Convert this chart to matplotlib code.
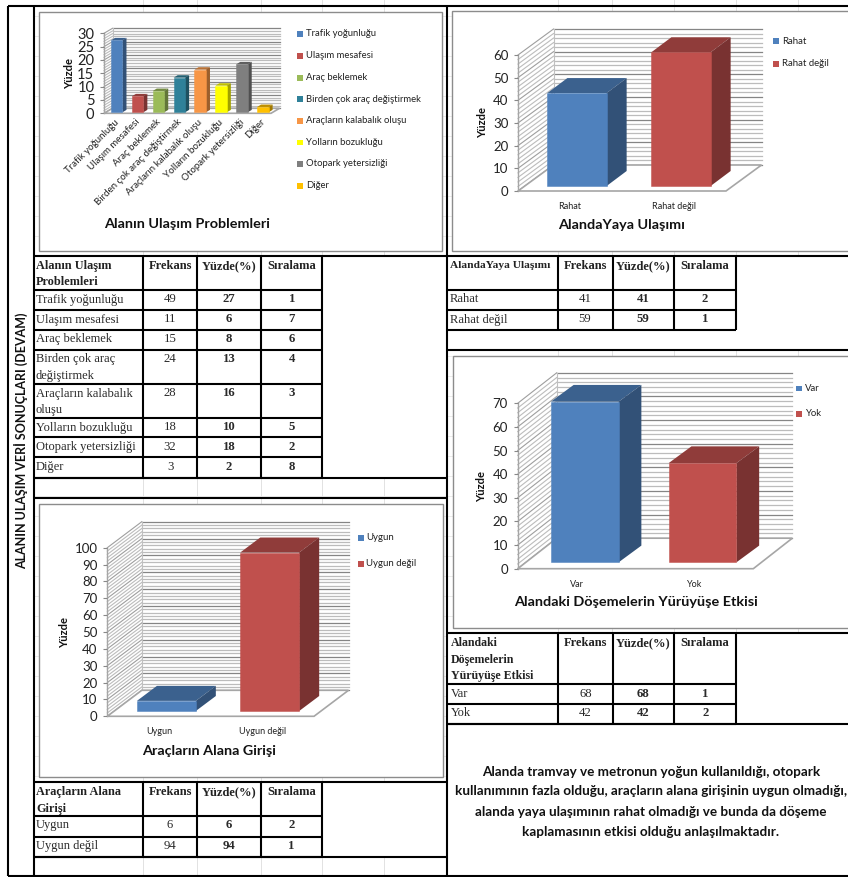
import matplotlib
matplotlib.use('Agg')
import matplotlib.pyplot as plt
from matplotlib.patches import Rectangle

plt.rcParams['font.family'] = ['Lato', 'DejaVu Sans']

W, H = 848, 877

# chart data
ulasim_labels = ['Trafik yoğunluğu', 'Ulaşım mesafesi', 'Araç beklemek', 'Birden çok araç değiştirmek',
                 'Araçların kalabalık oluşu', 'Yolların bozukluğu', 'Otopark yetersizliği', 'Diğer']
ulasim_frekans = [49, 11, 15, 24, 28, 18, 32, 3]
ulasim_yuzde = [27, 6, 8, 13, 16, 10, 18, 2]
ulasim_sira = [1, 7, 6, 4, 3, 5, 2, 8]
ulasim_colors = ['#4f81bd', '#c0504d', '#9bbb59', '#2f8199', '#f79646', '#ffff00', '#7f7f7f', '#ffc000']

yaya_labels = ['Rahat', 'Rahat değil']
yaya_frekans = [41, 59]
yaya_yuzde = [41, 59]
yaya_sira = [2, 1]

giris_labels = ['Uygun', 'Uygun değil']
giris_frekans = [6, 94]
giris_yuzde = [6, 94]
giris_sira = [2, 1]

doseme_labels = ['Var', 'Yok']
doseme_frekans = [68, 42]
doseme_yuzde = [68, 42]
doseme_sira = [1, 2]

two_colors = ['#4f81bd', '#c0504d']

summary = ['Alanda tramvay ve metronun yoğun kullanıldığı, otopark',
           'kullanımının fazla olduğu, araçların alana girişinin uygun olmadığı,',
           'alanda yaya ulaşımının rahat olmadığı ve bunda da döşeme',
           'kaplamasının etkisi olduğu anlaşılmaktadır.']

fig = plt.figure(figsize=(W / 100, H / 100), dpi=100)
bg = fig.add_axes([0, 0, 1, 1])
bg.set_xlim(0, W)
bg.set_ylim(H, 0)
bg.axis('off')


def darken(c, f):
    r, g, b = matplotlib.colors.to_rgb(c)
    return (r * f, g * f, b * f)


def hline(y, x0, x1):
    bg.plot([x0, x1], [y, y], color='black', lw=1.5, solid_capstyle='butt', zorder=5)


def vline(x, y0, y1):
    bg.plot([x, x], [y0, y1], color='black', lw=1.5, solid_capstyle='butt', zorder=5)


def chart_3d(labels, values, colors, ymax, major, minor, front, depth, offset, bar_depth, bar_w,
             tick_size=9.5, rotate=False):
    x0, x1, y0, y1 = front
    ax = fig.add_axes([x0 / W, 1 - y0 / H, (x1 - x0) / W, (y0 - y1) / H], zorder=3)
    ax.patch.set_alpha(0)
    n = len(labels)
    ax.set_xlim(0, n)
    ax.set_ylim(0, ymax)
    for s in ax.spines.values():
        s.set_visible(False)
    sx = n / (x1 - x0)
    sy = ymax / (y0 - y1)
    dx, dy = depth[0] * sx, depth[1] * sy

    # walls and floor
    v = 0
    while v <= ymax:
        is_major = v % major == 0
        col = '#858585' if is_major else '#bcbcbc'
        ax.plot([dx, n + dx], [v + dy, v + dy], color=col, lw=0.9, clip_on=False, zorder=1)
        ax.plot([0, dx], [v, v + dy], color='#9e9e9e' if is_major else '#bcbcbc', lw=0.8, clip_on=False, zorder=1)
        v += minor
    ax.plot([0, 0], [0, ymax], color='#a6a6a6', lw=1, clip_on=False, zorder=1)
    ax.plot([dx, dx], [dy, ymax + dy], color='#c0c0c0', lw=0.8, clip_on=False, zorder=1)
    ax.fill([0, n, n + dx, dx], [0, 0, dy, dy], facecolor='white', edgecolor='#a6a6a6', lw=1.2,
            clip_on=False, zorder=2)

    # bars
    ox, oy = offset[0] * sx, offset[1] * sy
    bx, by = bar_depth[0] * sx, bar_depth[1] * sy
    for i, val in enumerate(values):
        c = colors[i]
        left = i + 0.5 + ox - bar_w / 2
        right = left + bar_w
        top = val + oy
        ax.fill([left, right, right + bx, left + bx], [top, top, top + by, top + by],
                color=darken(c, 0.75), lw=0, clip_on=False, zorder=3)
        ax.fill([right, right + bx, right + bx, right], [oy, oy + by, top + by, top],
                color=darken(c, 0.63), lw=0, clip_on=False, zorder=3)
        ax.bar(i + 0.5 + ox, val, bar_w, bottom=oy, color=c, edgecolor=matplotlib.colors.to_rgba(c, 0.7),
               lw=0.5, clip_on=False, zorder=4)

    ax.set_yticks(range(0, ymax + 1, major))
    ax.tick_params(axis='y', length=3, width=0.8, color='#888888', labelsize=tick_size, pad=4, labelcolor='#222222')
    ax.set_xticks([i + 0.5 for i in range(n)])
    if rotate:
        ax.set_xticklabels(labels, rotation=45, ha='right', va='top', rotation_mode='anchor',
                           fontsize=7, color='#222222')
        ax.tick_params(axis='x', length=0, pad=3)
    else:
        ax.set_xticklabels(labels, fontsize=6.5, color='#222222')
        ax.tick_params(axis='x', length=0, pad=8)
    return ax


def legend(labels, colors, x, ys, size=6.9):
    for lab, c, y in zip(labels, colors, ys):
        bg.add_patch(Rectangle((x, y - 2.8), 5.8, 5.8, color=c, lw=0, zorder=4))
        bg.text(x + 8.5, y, lab, fontsize=size, va='center', ha='left', color='#222222', zorder=4)


def table(name_lines, rows, cols, ys, text_x, head_size=8.8):
    # cols: first..last column edges, ys: horizontal rule positions
    x0 = cols[0]
    top = ys[0]
    for i, line in enumerate(name_lines):
        bg.text(text_x, top + 10 + i * 16.3, line, fontsize=head_size, fontweight='bold', family='Liberation Serif',
                va='center', color='#222222', zorder=6)
    for k, head in enumerate(['Frekans', 'Yüzde(%)', 'Sıralama']):
        bg.text((cols[k + 1] + cols[k + 2]) / 2, top + 10, head, fontsize=9, fontweight='bold',
                family='Liberation Serif', ha='center', va='center', color='#222222', zorder=6)
    for r, row in enumerate(rows):
        rt = ys[r + 1]
        for i, line in enumerate(row[0].split('\n')):
            bg.text(text_x, rt + 9.5 + i * 17, line, fontsize=9, family='Liberation Serif', va='center',
                    color='#2a2a2a', zorder=6)
        for k in range(3):
            bg.text((cols[k + 1] + cols[k + 2]) / 2, rt + 9.5, str(row[k + 1]), fontsize=9.2,
                    family='Liberation Serif', fontweight='normal' if k == 0 else 'bold',
                    ha='center', va='center', color='#2a2a2a', zorder=6)
    for y in ys[1:]:
        hline(y, x0, cols[-1])
    for x in cols[1:]:
        vline(x, ys[0], ys[-1])


# faint sheet lines behind everything
for x in [143, 197, 261, 322, 384, 558, 612, 674, 736, 798]:
    bg.plot([x, x], [0, H], color='#e2e2e2', lw=0.7, zorder=0)
for y in range(16, H, 20):
    bg.plot([34, W], [y, y], color='#ececec', lw=0.7, zorder=0)
for (xa, ya, xb, yb) in [(34, 256, 447, 478), (447, 256, 848, 350), (34, 782, 447, 857), (447, 633, 848, 877)]:
    bg.add_patch(Rectangle((xa, ya), xb - xa, yb - ya, color='white', lw=0, zorder=0.5))

# chart frames
for (xa, ya, xb, yb) in [(38.5, 12, 442, 250.5), (452, 11, 849, 250.5), (39, 504, 442.5, 776.5), (452.5, 356, 849, 627.5)]:
    bg.add_patch(Rectangle((xa, ya), xb - xa, yb - ya, facecolor='white', edgecolor='#8c8c8c', lw=1, zorder=1))

# charts
chart_3d(ulasim_labels, ulasim_yuzde, ulasim_colors, 30, 5, 1, (104, 271, 113.3, 33.3), (8.5, 5), (2.3, 1),
         (4, 2.4), 0.55, tick_size=10.5, rotate=True)
chart_3d(yaya_labels, yaya_yuzde, two_colors, 60, 10, 2, (518, 726, 191, 55), (35.5, 26), (7, 5), (20, 15), 0.57)
chart_3d(giris_labels, giris_yuzde, two_colors, 100, 10, 2, (107.3, 314, 716.3, 547.7), (34.5, 26), (7.4, 5.3),
         (20, 15), 0.57)
chart_3d(doseme_labels, doseme_yuzde, two_colors, 70, 10, 2, (517.7, 753.3, 568.7, 403.3), (39, 30.5), (8.2, 6.4),
         (22.7, 16.7), 0.575)

legend(ulasim_labels, ulasim_colors, 297.3, [34, 55.7, 77.7, 99, 120.7, 142.3, 164, 185.7], size=6.8)
legend(yaya_labels, two_colors, 773.3, [41, 63.7])
legend(giris_labels, two_colors, 357.7, [537.7, 563.7])
legend(doseme_labels, two_colors, 796.3, [388.3, 414])

for txt, x, y in [('Alanın Ulaşım Problemleri', 187, 224.5), ('AlandaYaya Ulaşımı', 621.7, 225),
                  ('Araçların Alana Girişi', 209, 750.7), ('Alandaki Döşemelerin Yürüyüşe Etkisi', 635.7, 601.7)]:
    bg.text(x, y, txt, fontsize=10.4, fontweight='bold', ha='center', va='center', color='#111111', zorder=4)
for x, y in [(69.3, 73.3), (483, 123), (65, 633), (482, 486)]:
    bg.text(x, y, 'Yüzde', fontsize=8, fontweight='bold', rotation=90, ha='center', va='center', color='#111111', zorder=4)

# tables
rows1 = [[('Birden çok araç\ndeğiştirmek' if l.startswith('Birden') else
           'Araçların kalabalık\noluşu' if l.startswith('Araçların') else l), f, y, s]
         for l, f, y, s in zip(ulasim_labels, ulasim_frekans, ulasim_yuzde, ulasim_sira)]
table(['Alanın Ulaşım', 'Problemleri'], rows1, [34, 143.3, 196.7, 261, 322.3],
      [256, 290, 310, 329.5, 349.5, 384, 418, 437.3, 457.3, 477.7], 36)
rows2 = [[l, f, y, s] for l, f, y, s in zip(yaya_labels, yaya_frekans, yaya_yuzde, yaya_sira)]
table(['AlandaYaya Ulaşımı'], rows2, [447, 557.5, 612.5, 673.5, 736.3], [256, 290, 310, 330], 450, head_size=8.2)
rows3 = [[l, f, y, s] for l, f, y, s in zip(giris_labels, giris_frekans, giris_yuzde, giris_sira)]
table(['Araçların Alana', 'Girişi'], rows3, [34, 143.3, 196.7, 260.7, 321.7], [782.3, 815.7, 836.7, 856.7], 36)
rows4 = [[l, f, y, s] for l, f, y, s in zip(doseme_labels, doseme_frekans, doseme_yuzde, doseme_sira)]
table(['Alandaki', 'Döşemelerin', 'Yürüyüşe Etkisi'], rows4, [447, 558.3, 612.5, 674.3, 736], [633.3, 684.3, 704, 724.3], 451,
      head_size=8.6)

# outer rules
hline(6, 8, W)
hline(256, 34, W)
hline(349.5, 447, W)
hline(633.3, 447, W)
hline(724.3, 447, W)
hline(477.7, 34, 447)
hline(497.5, 34, 447)
hline(782.3, 34, 447)
hline(856.7, 34, 447)
hline(876, 8, W)
vline(8, 6, 876)
vline(33.7, 6, 876)
vline(447, 6, 876)

bg.text(20.5, 441, 'ALANIN ULAŞIM VERİ SONUÇLARI (DEVAM)', fontsize=9, fontweight='bold', rotation=90,
        ha='center', va='center', color='#111111', zorder=6)

for line, y in zip(summary, [771.7, 790.7, 811.7, 831.7]):
    bg.text(651, y, line, fontsize=9.7, fontweight='bold', ha='center', va='center', color='#111111', zorder=6)

fig.savefig('out.png', dpi=100)
